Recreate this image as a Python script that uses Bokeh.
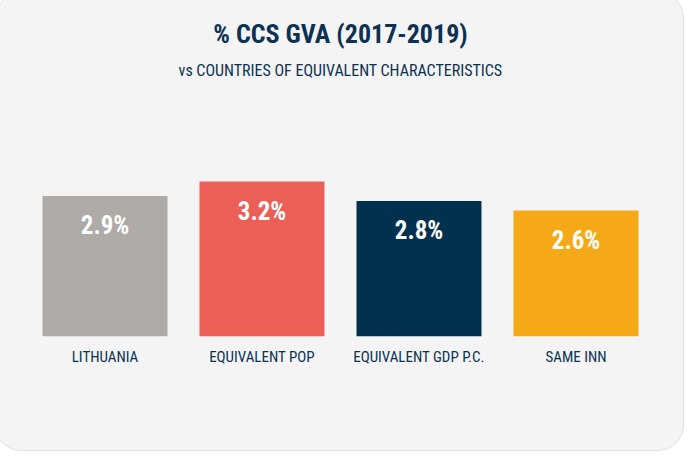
from bokeh.plotting import figure
from bokeh.models import ColumnDataSource, Range1d, FactorRange, Title
from bokeh.core.properties import value
from bokeh.embed import file_html
from bokeh.resources import INLINE

categories = ["LITHUANIA", "EQUIVALENT POP", "EQUIVALENT GDP P.C.", "SAME INN"]
values = [2.9, 3.2, 2.8, 2.6]
labels = ["2.9%", "3.2%", "2.8%", "2.6%"]
colors = ["#aeaaa8", "#eb5f57", "#02304f", "#f5a917"]

NAVY = "#0d3152"
FONT = "'Noto Sans ExtraCondensed', 'Noto Sans Condensed', 'Roboto Condensed', 'DejaVu Sans Condensed', sans-serif"

src = ColumnDataSource(dict(cat=categories, val=values, lab=labels, col=colors))

p = figure(width=689, height=459, output_backend="svg", toolbar_location=None,
           x_range=FactorRange(*categories, range_padding=0), y_range=Range1d(0, 5.1),
           y_axis_location=None, min_border_left=30, min_border_right=31,
           min_border_top=96, min_border_bottom=116)

p.styles = {"border-radius": "26px", "border": "1px solid #e0e0e0",
            "background-color": "#f4f4f4", "overflow": "hidden",
            "margin": "-8px -6px -8px -5px"}
p.background_fill_alpha = 0
p.border_fill_alpha = 0
p.outline_line_color = None
p.xgrid.visible = False
p.ygrid.visible = False

p.vbar(x="cat", top="val", width=0.796, bottom=0, source=src,
       fill_color="col", line_color=None)
p.text(x="cat", y="val", text="lab", source=src, y_offset=15,
       text_align="center", text_baseline="top", text_color="white",
       text_font=value(FONT), text_font_style="bold", text_font_size="25px")

ax = p.xaxis[0]
ax.axis_line_color = None
ax.major_tick_line_color = None
ax.minor_tick_line_color = None
ax.major_label_standoff = 5
ax.major_label_text_font = FONT
ax.major_label_text_font_size = "15px"
ax.major_label_text_color = NAVY

p.add_layout(Title(text="vs COUNTRIES OF EQUIVALENT CHARACTERISTICS", align="center",
                   text_font=FONT, text_font_size="16px", text_font_style="normal",
                   text_color=NAVY, standoff=20), "above")
p.add_layout(Title(text="% CCS GVA (2017-2019)", align="center",
                   text_font=FONT, text_font_size="26px", text_font_style="bold",
                   text_color=NAVY, standoff=0), "above")
p.add_layout(Title(text=" ", text_font_size="5px", standoff=0), "above")

open("out.html", "w").write(file_html(p, INLINE))
